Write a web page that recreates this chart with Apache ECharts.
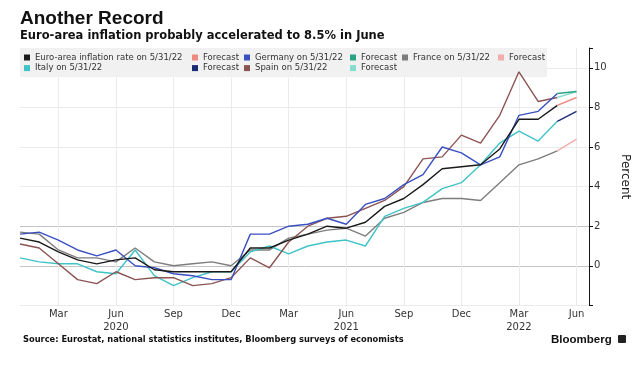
<!DOCTYPE html>
<html><head><meta charset="utf-8">
<script src="https://cdn.jsdelivr.net/npm/echarts@6/dist/echarts.min.js"></script>
<style>html,body{margin:0;padding:0;background:#fff}#c{width:640px;height:372px}</style>
</head><body><div id="c"></div>
<script>
// Months, Jan 2020 .. Jun 2022 (index 0..29)
const months = ['2020-01','2020-02','2020-03','2020-04','2020-05','2020-06','2020-07','2020-08','2020-09','2020-10','2020-11','2020-12',
  '2021-01','2021-02','2021-03','2021-04','2021-05','2021-06','2021-07','2021-08','2021-09','2021-10','2021-11','2021-12',
  '2022-01','2022-02','2022-03','2022-04','2022-05','2022-06'];
const tickLabels = ['','','Mar','','','Jun\n2020','','','Sep','','','Dec',
  '','','Mar','','','Jun\n2021','','','Sep','','','Dec',
  '','','Mar\n2022','','','Jun'];
const yTickLabels = ['0','2','4','6','8','10'];

// Actual values (through May 2022)
const euroArea = [1.4,1.2,0.7,0.3,0.1,0.3,0.4,-0.2,-0.3,-0.3,-0.3,-0.3, 0.9,0.9,1.3,1.6,2.0,1.9,2.2,3.0,3.4,4.1,4.9,5.0, 5.1,5.9,7.4,7.4,8.1];
const germany  = [1.6,1.7,1.3,0.8,0.5,0.8,0.0,-0.1,-0.4,-0.5,-0.7,-0.7, 1.6,1.6,2.0,2.1,2.4,2.1,3.1,3.4,4.1,4.6,6.0,5.7, 5.1,5.5,7.6,7.8,8.7];
const france   = [1.7,1.6,0.8,0.4,0.4,0.2,0.9,0.2,0.0,0.1,0.2,0.0, 0.8,0.8,1.4,1.6,1.8,1.9,1.5,2.4,2.7,3.2,3.4,3.4, 3.3,4.2,5.1,5.4,5.8];
const italy    = [0.4,0.2,0.1,0.1,-0.3,-0.4,0.8,-0.5,-1.0,-0.6,-0.3,-0.3, 0.7,1.0,0.6,1.0,1.2,1.3,1.0,2.5,2.9,3.2,3.9,4.2, 5.1,6.2,6.8,6.3,7.3];
const spain    = [1.1,0.9,0.1,-0.7,-0.9,-0.3,-0.7,-0.6,-0.6,-1.0,-0.9,-0.6, 0.4,-0.1,1.2,2.0,2.4,2.5,2.9,3.3,4.0,5.4,5.5,6.6, 6.2,7.6,9.8,8.3,8.5];

// Forecasts (May 2022 -> Jun 2022)
const forecastMonths = ['2022-05','2022-06'];
const euroAreaFc = [8.1, 8.5];
const germanyFc  = [8.7, 8.8];
const franceFc   = [5.8, 6.4];
const italyFc    = [7.3, 7.8];
const spainFc    = [8.5, 8.8];

const toPairs = (vals, ms) => vals.map((v, i) => [months.indexOf(ms ? ms[i] : months[i]), v]);

const FONT = 'DejaVu Sans';
const mk = (name, data, color, z) => ({
  name, type: 'line', data, symbol: 'none', smooth: false, z: z || 2,
  lineStyle: { color, width: 1.4 }, itemStyle: { color }, emphasis: { disabled: true }
});

const C = {
  euro: '#1a1a1a', euroFc: '#ef8a80',
  de: '#3a50c0', deFc: '#2aa384',
  fr: '#7d7d7d', frFc: '#f2adad',
  it: '#3fc3c8', itFc: '#1c2c74',
  es: '#8c5353', esFc: '#86dccf'
};

const series = [
  mk('France on 5/31/22', toPairs(france), C.fr),
  mk('Italy on 5/31/22', toPairs(italy), C.it),
  mk('Spain on 5/31/22', toPairs(spain), C.es),
  mk('Germany on 5/31/22', toPairs(germany), C.de),
  mk('Euro-area inflation rate on 5/31/22', toPairs(euroArea), C.euro),
  mk('Forecast (France)', toPairs(franceFc, forecastMonths), C.frFc),
  mk('Forecast (Italy)', toPairs(italyFc, forecastMonths), C.itFc),
  mk('Forecast (Spain)', toPairs(spainFc, forecastMonths), C.esFc),
  mk('Forecast (Germany)', toPairs(germanyFc, forecastMonths), C.deFc),
  mk('Forecast (Euro area)', toPairs(euroAreaFc, forecastMonths), C.euroFc)
];

const legendBase = (left, data) => ({
  left, top: 52.5, orient: 'vertical', padding: 0, itemGap: 0.6,
  itemWidth: 6, itemHeight: 6, icon: 'rect', selectedMode: false, data,
  formatter: n => n.startsWith('Forecast') ? 'Forecast' : n,
  textStyle: { fontFamily: FONT, fontSize: 8.5, color: '#333', lineHeight: 10 }
});

const chart = echarts.init(document.getElementById('c'), null, { renderer: 'canvas' });
chart.setOption({
  animation: false,
  backgroundColor: '#fff',
  grid: { left: 20, right: 51, top: 48, bottom: 66.6, containLabel: false },
  legend: [
    legendBase(24, ['Euro-area inflation rate on 5/31/22', 'Italy on 5/31/22']),
    legendBase(192, ['Forecast (Euro area)', 'Forecast (Italy)']),
    legendBase(244, ['Germany on 5/31/22', 'Spain on 5/31/22']),
    legendBase(350, ['Forecast (Germany)', 'Forecast (Spain)']),
    legendBase(402, ['France on 5/31/22']),
    legendBase(498, ['Forecast (France)'])
  ],
  xAxis: {
    type: 'value', min: 0, max: 29.65, interval: 1,
    axisLine: { show: false, onZero: false }, axisTick: { show: false },
    axisLabel: {
      formatter: v => (Number.isInteger(v) && tickLabels[v]) ? tickLabels[v] : '',
      fontFamily: FONT, fontSize: 10, color: '#333', margin: 3, lineHeight: 13
    },
    splitLine: { show: true, lineStyle: { color: ['rgba(0,0,0,0)', 'rgba(0,0,0,0)', '#ebebeb'], width: 1 } }
  },
  yAxis: {
    type: 'value', position: 'right', min: -2, max: 11, interval: 2,
    name: 'Percent', nameLocation: 'middle', nameRotate: -90, nameGap: 30,
    nameTextStyle: { fontFamily: FONT, fontSize: 12, color: '#222' },
    axisLine: { show: true, onZero: false, lineStyle: { color: '#111', width: 1 } },
    axisTick: { show: true, length: 4, lineStyle: { color: '#111' } },
    axisLabel: {
      formatter: v => yTickLabels.includes(String(v)) ? String(v) : '',
      fontFamily: FONT, fontSize: 10, color: '#333', margin: 5
    },
    splitLine: { show: true, lineStyle: { color: ['#ebebeb', '#c4c4c4', '#c4c4c4', '#ebebeb', '#ebebeb', '#ebebeb', '#ebebeb', 'rgba(0,0,0,0)'], width: 1 } }
  },
  graphic: [
    { type: 'rect', z: 1, silent: true, shape: { x: 20, y: 48, width: 527, height: 29 }, style: { fill: '#f1f1f1' } },
    { type: 'text', z: 10, style: { text: 'Another Record', x: 20, y: 19, font: 'bold 19px "Liberation Sans"', fill: '#111', textVerticalAlign: 'middle' } },
    { type: 'text', z: 10, style: { text: 'Euro-area inflation probably accelerated to 8.5% in June', x: 20, y: 36, font: 'bold 11.5px "DejaVu Sans"', fill: '#111', textVerticalAlign: 'middle' } },
    { type: 'text', z: 10, style: { text: 'Source: Eurostat, national statistics institutes, Bloomberg surveys of economists', x: 23, y: 340, font: 'bold 8.3px "DejaVu Sans"', fill: '#111', textVerticalAlign: 'middle' } },
    { type: 'text', z: 10, style: { text: 'Bloomberg', x: 551, y: 339.5, font: 'bold 11.5px "Liberation Sans"', fill: '#111', textVerticalAlign: 'middle' } },
    { type: 'rect', z: 10, shape: { x: 618, y: 335, width: 8, height: 8, r: 1 }, style: { fill: '#222' } }
  ],
  series
});
</script></body></html>
